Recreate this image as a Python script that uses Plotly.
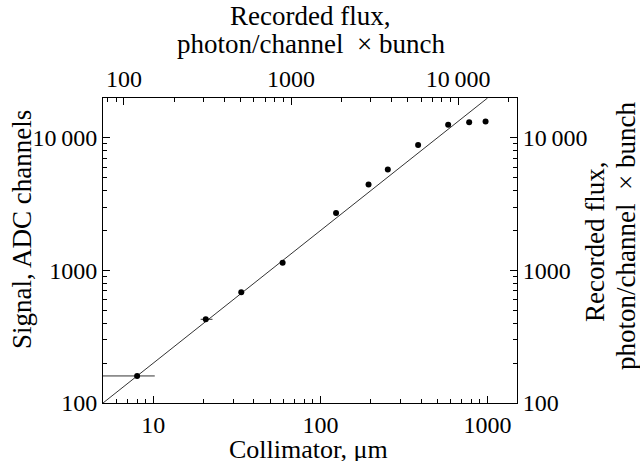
import plotly.graph_objects as go
import numpy as np

# Data
collimator_um = [8, 20.6, 33.6, 59.4, 124, 194, 253, 384, 581, 776, 973]
signal_adc = [160, 428, 684, 1145, 2716, 4443, 5765, 8856, 12540, 13130, 13280]
xerr_plus = [2.2, 2.0, 0, 0, 0, 0, 0, 0, 0, 0, 0]
xerr_minus = [3.5, 1.4, 0, 0, 0, 0, 0, 0, 0, 0, 0]

fit_x = [5, 1000]
fit_y = [100, 20000]

flux_per_um = 15  # top axis scale factor

x_range = [5, 1500]
y_range = [100, 20000]

bottom_ticks = [10, 100, 1000]
bottom_labels = ["10", "100", "1000"]
top_ticks = [100, 1000, 10000]
top_labels = ["100", "1000", "10\u2009000"]
y_ticks = [100, 1000, 10000]
y_labels = ["100", "1000", "10\u2009000"]

FONT = "Liberation Serif"

W, H = 640, 464
L, T = 103, 98
R = W - 517
B = H - 403
PW, PH = W - L - R, H - T - B


def px_x(px):
    return (px - L) / PW


def px_y(py):
    return (H - B - py) / PH


def minors(lo, hi):
    out = []
    d = 1
    while d <= hi:
        for k in range(2, 10):
            v = k * d
            if lo <= v <= hi:
                out.append(v)
        d *= 10
    return out


fig = go.Figure()

fig.add_trace(go.Scatter(
    x=fit_x, y=fit_y, mode="lines",
    line=dict(color="#333333", width=1), showlegend=False, hoverinfo="skip"))

fig.add_trace(go.Scatter(
    x=collimator_um, y=signal_adc, mode="markers",
    marker=dict(color="black", size=6),
    error_x=dict(type="data", symmetric=False, array=xerr_plus,
                 arrayminus=xerr_minus, width=0, thickness=1, color="#333333"),
    showlegend=False))

# invisible trace for secondary axes
fig.add_trace(go.Scatter(
    x=[x_range[0] * flux_per_um], y=[y_range[0]], xaxis="x2", yaxis="y2",
    mode="markers", marker=dict(opacity=0), showlegend=False, hoverinfo="skip"))

tickfont = dict(family=FONT, size=24, color="black")

common = dict(type="log", showgrid=False, zeroline=False, showline=True,
              linecolor="black", linewidth=1, ticks="inside", ticklen=7,
              tickcolor="black", tickwidth=1, tickfont=tickfont, automargin=False)


def minor_cfg(lo, hi):
    return dict(tickvals=minors(lo, hi), ticks="inside", ticklen=4, tickcolor="black")


fig.update_layout(
    width=W, height=H,
    margin=dict(l=L, r=R, t=T, b=B),
    paper_bgcolor="white", plot_bgcolor="white",
    xaxis=dict(
        **common,
        range=[np.log10(x_range[0]), np.log10(x_range[1])],
        tickvals=bottom_ticks, ticktext=bottom_labels,
        minor=minor_cfg(x_range[0], x_range[1]),
    ),
    xaxis2=dict(
        **common,
        overlaying="x", side="top", anchor="y",
        range=[np.log10(x_range[0] * flux_per_um), np.log10(x_range[1] * flux_per_um)],
        tickvals=top_ticks, ticktext=top_labels,
        minor=minor_cfg(x_range[0] * flux_per_um, x_range[1] * flux_per_um),
    ),
    yaxis=dict(
        **common,
        range=[np.log10(y_range[0]), np.log10(y_range[1])],
        tickvals=y_ticks, ticktext=y_labels,
        minor=minor_cfg(y_range[0], y_range[1]),
    ),
    yaxis2=dict(
        **common,
        overlaying="y", side="right", anchor="x",
        range=[np.log10(y_range[0]), np.log10(y_range[1])],
        tickvals=y_ticks, ticktext=y_labels,
        minor=minor_cfg(y_range[0], y_range[1]),
    ),
)

title_font = dict(family=FONT, size=27, color="black")
annotations = [
    dict(text="Collimator, μm", x=px_x(308), y=px_y(449), textangle=0, height=24,
         font=dict(family=FONT, size=26, color="black")),
    dict(text="Signal, ADC channels", x=px_x(22), y=px_y(230), textangle=-90, font=title_font),
    dict(text="Recorded flux,", x=px_x(310), y=px_y(16), textangle=0, font=title_font),
    dict(text="photon/channel  × bunch", x=px_x(311), y=px_y(44), textangle=0, font=title_font),
    dict(text="Recorded flux,", x=px_x(595), y=px_y(242), textangle=-90, font=title_font),
    dict(text="photon/channel  × bunch", x=px_x(626), y=px_y(236), textangle=-90, font=title_font),
]
for a in annotations:
    fig.add_annotation(xref="paper", yref="paper", showarrow=False,
                       xanchor="center", yanchor="middle", **a)

fig.write_html("out.html", config={"displayModeBar": False},
               post_script="document.body.style.margin='0px';")
